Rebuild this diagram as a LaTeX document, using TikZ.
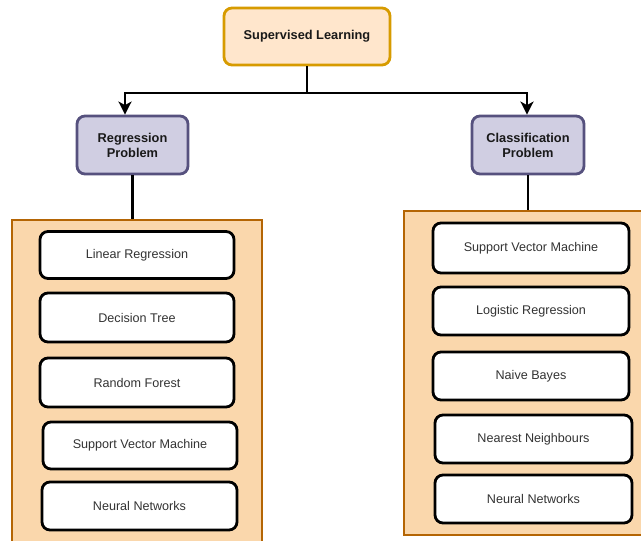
\documentclass[tikz,border=0pt]{standalone}
\usepackage{fontspec}
\setmainfont{Liberation Sans}
\usetikzlibrary{arrows.meta}
\definecolor{topfill}{HTML}{FFE6CC}
\definecolor{topdraw}{HTML}{D79B00}
\definecolor{purfill}{HTML}{D0CEE2}
\definecolor{purdraw}{HTML}{56517E}
\definecolor{confill}{HTML}{FAD7AC}
\definecolor{condraw}{HTML}{B46504}
\definecolor{itemtext}{HTML}{333333}
\tikzset{
  topbox/.style={draw=topdraw, fill=topfill, line width=2.8pt, rounded corners=8pt,
    font=\fontsize{12.8}{15}\selectfont\bfseries, text=black!90, align=center},
  purbox/.style={draw=purdraw, fill=purfill, line width=2.8pt, rounded corners=8pt,
    font=\fontsize{12.8}{15}\selectfont\bfseries, text=black!90, align=center},
  contbox/.style={draw=condraw, fill=confill, line width=2.8pt},
  itembox/.style={draw=black, fill=white, line width=2.8pt, rounded corners=8pt,
    font=\fontsize{12.6}{15}\selectfont, text=itemtext, align=center},
  conn/.style={draw=black, line width=2.8pt},
  arr/.style={conn, -{Stealth[length=13pt,width=13pt,inset=3.5pt]}}
}
\begin{document}
\begin{tikzpicture}[x=1pt,y=-1pt]
\useasboundingbox (0,0) rectangle (641,541);
\clip (0,0) rectangle (641,541);
\fill[white] (0,0) rectangle (641,541);
% containers
\node[contbox, minimum width=250pt, minimum height=340pt] (lc) at (137,390) {};
\node[contbox, minimum width=246pt, minimum height=324pt] (rc) at (527,373) {};
% top
\node[topbox, minimum width=166pt, minimum height=57pt] (top) at (307,36.5) {Supervised Learning};
\node[purbox, minimum width=111pt, minimum height=58pt] (reg) at (132.5,145) {Regression\\Problem};
\node[purbox, minimum width=112pt, minimum height=58pt] (cls) at (528,145) {Classification\\Problem};
% connectors
\coordinate (hl) at (125,93);
\coordinate (hr) at (527,93);
\draw[conn] (top.south) -- (top.south |- hl);
\draw[conn, line cap=rect] (hl) -- (hr);
\draw[arr] (hl) -- (hl |- reg.north);
\draw[arr] (hr) -- (hr |- cls.north);
\draw[conn] (reg.south) -- (reg.south |- lc.north);
\draw[conn] (cls.south) -- (cls.south |- rc.north);
% left items
\node[itembox, minimum width=194pt, minimum height=47pt] (l1) at (137,255) {Linear Regression};
\node[itembox, minimum width=194pt, minimum height=49pt] (l2) at (137,317.5) {Decision Tree};
\node[itembox, minimum width=194pt, minimum height=49pt] (l3) at (137,382.5) {Random Forest};
\node[itembox, minimum width=194pt, minimum height=47pt] (l4) at (140,445.5) {Support Vector Machine};
\node[itembox, minimum width=195pt, minimum height=48pt] (l5) at (139.5,506) {Neural Networks};
% right items
\node[itembox, minimum width=196pt, minimum height=50pt] (r1) at (531,248) {Support Vector Machine};
\node[itembox, minimum width=196pt, minimum height=48pt] (r2) at (531,311) {Logistic Regression};
\node[itembox, minimum width=196pt, minimum height=48pt] (r3) at (531,376) {Naive Bayes};
\node[itembox, minimum width=197pt, minimum height=48pt] (r4) at (533.5,439) {Nearest Neighbours};
\node[itembox, minimum width=197pt, minimum height=48pt] (r5) at (533.5,499) {Neural Networks};
\end{tikzpicture}
\end{document}
